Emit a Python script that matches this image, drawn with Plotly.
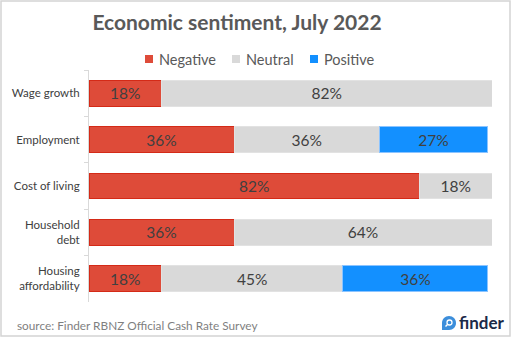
import plotly.graph_objects as go

# Survey results (share of respondents, %)
categories = ["Wage growth", "Employment", "Cost of living", "Household<br>debt", "Housing<br>affordability"]
negative = [18, 36, 82, 36, 18]
neutral = [82, 36, 18, 64, 45]
positive = [None, 27, None, None, 36]

series = [
    ("Negative", negative, "#DE4B39", "#D42A17"),
    ("Neutral", neutral, "#D9D9D9", "#E2E2E2"),
    ("Positive", positive, "#1390FF", "#8CC4FF"),
]

FONT = "Lato, 'Open Sans', sans-serif"

fig = go.Figure()
for name, vals, fill, edge in series:
    fig.add_trace(go.Bar(
        name=name,
        y=categories,
        x=vals,
        orientation="h",
        marker=dict(color=fill, line=dict(color=edge, width=1)),
        texttemplate="%{x}%",
        textposition="inside",
        insidetextanchor="middle",
        textfont=dict(size=15.5, color="#404040", family=FONT),
        hoverinfo="skip",
        showlegend=False,
    ))

W, H = 512, 339
L, R, T, B = 89, 20, 70, 37
pw, ph = W - L - R, H - T - B


def px_x(x):
    return (x - L) / pw


def px_y(y):
    return (H - B - y) / ph


fig.update_layout(
    width=W, height=H,
    margin=dict(l=L, r=R, t=T, b=B),
    paper_bgcolor="white",
    plot_bgcolor="white",
    barmode="stack",
    bargap=0.44,
    font=dict(family=FONT, color="#595959"),
    title=dict(
        text="<b>Economic sentiment, July 2022</b>",
        x=237 / W, xanchor="center", xref="container",
        y=1 - 23 / H, yanchor="middle", yref="container",
        font=dict(size=21, color="#595959", family=FONT),
    ),
    showlegend=False,
)

fig.update_xaxes(range=[0, 100], visible=False, fixedrange=True)
fig.update_yaxes(
    autorange="reversed",
    showline=True, linecolor="#D9D9D9", linewidth=1,
    ticks="outside", tickson="boundaries", ticklen=4, tickcolor="#D9D9D9",
    tickfont=dict(size=11.5, color="#404040", family=FONT),
    ticklabelstandoff=6,
    showgrid=False,
    fixedrange=True,
)

# Legend row: colour swatch followed by series name
legend_x = [145, 232, 310]
for (name, _, fill, _), lx in zip(series, legend_x):
    fig.add_shape(
        type="rect", xref="paper", yref="paper",
        x0=px_x(lx), x1=px_x(lx + 8), y0=px_y(63), y1=px_y(55),
        line=dict(width=0), fillcolor=fill,
    )
    fig.add_annotation(
        text=name, xref="paper", yref="paper",
        x=px_x(lx + 12), y=px_y(59), xanchor="left", yanchor="middle",
        showarrow=False, font=dict(size=14.5, color="#595959", family=FONT),
    )

# Outer frame around the whole graphic
fig.add_shape(
    type="rect", xref="paper", yref="paper",
    x0=px_x(1), x1=px_x(510), y0=px_y(336), y1=px_y(1),
    line=dict(color="#D4D4D4", width=1.5), fillcolor="rgba(0,0,0,0)",
    layer="below",
)

# Source note
fig.add_annotation(
    text="source: Finder RBNZ Official Cash Rate Survey",
    xref="paper", yref="paper", x=px_x(15), y=px_y(325),
    xanchor="left", yanchor="middle", showarrow=False,
    font=dict(size=11.8, color="#7F7F7F", family=FONT),
)

# Brand mark: badge icon + wordmark
fig.add_shape(
    type="path", xref="paper", yref="paper",
    path=(f"M {px_x(449)},{px_y(316)} "
          f"C {px_x(453)},{px_y(316)} {px_x(456)},{px_y(319)} {px_x(456)},{px_y(323)} "
          f"C {px_x(456)},{px_y(327)} {px_x(453)},{px_y(330)} {px_x(449)},{px_y(330)} "
          f"L {px_x(442)},{px_y(330)} L {px_x(442)},{px_y(323)} "
          f"C {px_x(442)},{px_y(319)} {px_x(445)},{px_y(316)} {px_x(449)},{px_y(316)} Z"),
    line=dict(width=0), fillcolor="#3C8EDB",
)
fig.add_shape(
    type="circle", xref="paper", yref="paper",
    x0=px_x(447), x1=px_x(452), y0=px_y(325), y1=px_y(320),
    line=dict(color="white", width=1.3), fillcolor="rgba(0,0,0,0)",
)
fig.add_shape(
    type="line", xref="paper", yref="paper",
    x0=px_x(447.5), x1=px_x(445.5), y0=px_y(324.5), y1=px_y(326.5),
    line=dict(color="white", width=1.5),
)
fig.add_annotation(
    text="<b>finder</b>",
    xref="paper", yref="paper", x=px_x(457), y=px_y(322),
    xanchor="left", yanchor="middle", showarrow=False,
    font=dict(size=17, color="#1B2A48", family=FONT),
)

fig.write_html("out.html")
